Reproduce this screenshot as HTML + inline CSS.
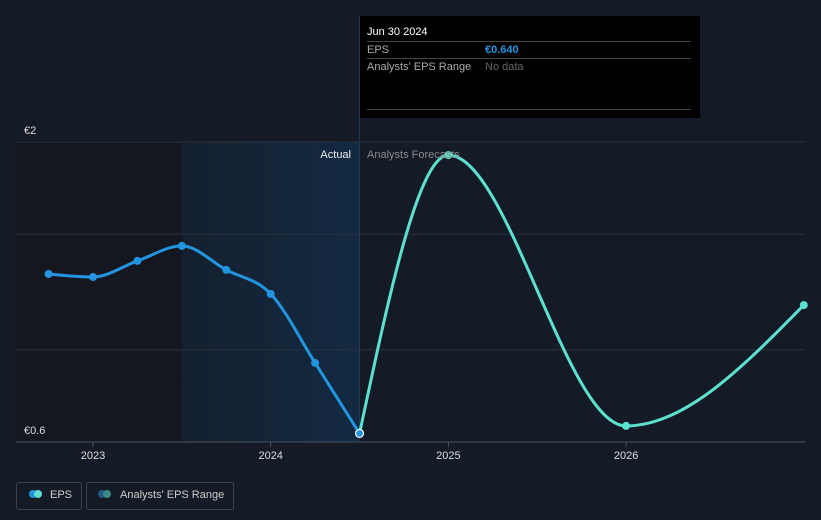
<!DOCTYPE html>
<html><head><meta charset="utf-8"><style>
html,body{margin:0;padding:0;background:#151b26;width:821px;height:520px;overflow:hidden;font-family:"Liberation Sans",sans-serif}
svg text{font-family:"Liberation Sans",sans-serif}
</style></head><body>
<svg id="chart" width="821" height="520" xmlns="http://www.w3.org/2000/svg">
<defs><linearGradient id="pg" x1="0" x2="1" y1="0" y2="0"><stop offset="0" stop-color="#14202f"/><stop offset="1" stop-color="#132a42"/></linearGradient></defs>
<rect x="0" y="0" width="821" height="520" fill="#151b26"/>
<g id="regions"></g>
<g id="grid"></g>
<g id="series"></g>
<g id="labels"></g>
<g>
<rect x="360" y="16" width="340" height="102" fill="#000"/>
<text x="367" y="35" fill="#fff" font-size="11">Jun 30 2024</text>
<line x1="367" y1="41.5" x2="691" y2="41.5" stroke="#444"/>
<text x="367" y="53" fill="#aaa" font-size="11">EPS</text>
<text x="485" y="53" fill="#2394df" font-size="11" font-weight="bold">€0.640</text>
<line x1="367" y1="58.5" x2="691" y2="58.5" stroke="#444"/>
<text x="367" y="70" fill="#aaa" font-size="11">Analysts' EPS Range</text>
<text x="485" y="70" fill="#666" font-size="11">No data</text>
<line x1="367" y1="109.5" x2="691" y2="109.5" stroke="#444"/>
</g>
<g>
<rect x="16.5" y="482.5" width="65" height="27" rx="2" fill="none" stroke="#3a404c"/>
<circle cx="33" cy="494" r="4" fill="#2394df"/><circle cx="38" cy="494" r="4" fill="#5ce1d0"/>
<text x="50" y="498" fill="#ccc" font-size="11">EPS</text>
<rect x="86.5" y="482.5" width="147" height="27" rx="2" fill="none" stroke="#3a404c"/>
<circle cx="102" cy="494" r="4" fill="#1f5a80"/><circle cx="107" cy="494" r="4" fill="#3d8a88"/>
<text x="120" y="498" fill="#ccc" font-size="11">Analysts' EPS Range</text>
</g>
</svg>
<script>
const actualDates=[2022.75,2023,2023.25,2023.5,2023.75,2024,2024.25,2024.5];
const actualEps=[1.384,1.370,1.445,1.515,1.403,1.291,0.969,0.640];
const forecastDates=[2024.5,2025,2026,2027];
const forecastEps=[0.640,1.939,0.675,1.239];
const xTicks=[2023,2024,2025,2026];
const yTicks=[0.6,2];
const gridVals=[2,1.57,1.03,0.6];
const NS="http://www.w3.org/2000/svg";
const X=v=>93+(v-2023)*177.7;
const Y=v=>442-(v-0.6)*(300/1.4);
function mk(t,a,p){const e=document.createElementNS(NS,t);for(const k in a)e.setAttribute(k,a[k]);(p||document.getElementById('series')).appendChild(e);return e;}
function path(pts){const n=pts.length;const s=[],m=[];for(let i=0;i<n-1;i++)s.push((pts[i+1][1]-pts[i][1])/(pts[i+1][0]-pts[i][0]));
for(let i=0;i<n;i++){if(i===0)m.push(s[0]);else if(i===n-1)m.push(s[n-2]);else{const a=s[i-1],b=s[i];if(a*b<=0)m.push(0);else{const h0=pts[i][0]-pts[i-1][0],h1=pts[i+1][0]-pts[i][0];const p=(a*h1+b*h0)/(h0+h1);m.push((Math.sign(a)+Math.sign(b))*Math.min(Math.abs(a),Math.abs(b),0.5*Math.abs(p)));}}}
if(n>2){m[0]=(3*s[0]-m[1])/2;m[n-1]=(3*s[n-2]-m[n-2])/2;}
let d=`M${pts[0][0]},${pts[0][1]}`;for(let i=0;i<n-1;i++){const h=(pts[i+1][0]-pts[i][0])/3;d+=` C${pts[i][0]+h},${pts[i][1]+m[i]*h} ${pts[i+1][0]-h},${pts[i+1][1]-m[i+1]*h} ${pts[i+1][0]},${pts[i+1][1]}`;}return d;}
const reg=document.getElementById('regions');
let r1=mk('rect',{x:16,y:142,width:X(2023.5)-16,height:300,fill:'#14171f'},reg);

let r2=mk('rect',{x:X(2023.5),y:142,width:X(2024.5)-X(2023.5),height:300,fill:'url(#pg)'},reg);

const g=document.getElementById('grid');
gridVals.forEach(v=>{let l=mk('line',{x1:16,x2:805,y1:Y(v),y2:Y(v),stroke:v===0.6?'#4a505c':'#2a303c'},g);});
let vl=mk('line',{x1:X(2024.5),x2:X(2024.5),y1:16,y2:442,stroke:'#223a52'},g);
const lb=document.getElementById('labels');
xTicks.forEach(v=>{mk('line',{x1:X(v),x2:X(v),y1:442,y2:447,stroke:'#4a505c'},lb);let t=mk('text',{x:X(v),y:459,'text-anchor':'middle',fill:'#ddd','font-size':11},lb);t.textContent=v;});
yTicks.forEach(v=>{let t=mk('text',{x:24,y:Y(v)-8,fill:'#ddd','font-size':11},lb);t.textContent='€'+v;});
let ta=mk('text',{x:351,y:158,'text-anchor':'end',fill:'#eee','font-size':11},lb);ta.textContent='Actual';
let tf=mk('text',{x:367,y:158,fill:'#888','font-size':11},lb);tf.textContent='Analysts Forecasts';
const ap=actualDates.map((d,i)=>[X(d),Y(actualEps[i])]);
const fp=forecastDates.map((d,i)=>[X(d),Y(forecastEps[i])]);
let pa=mk('path',{d:path(ap),fill:'none',stroke:'#2394df','stroke-width':3});
let pf=mk('path',{d:path(fp),fill:'none',stroke:'#5ce1d0','stroke-width':3});
ap.forEach((p,i)=>{const last=i===ap.length-1;let c=mk('circle',{cx:p[0],cy:p[1],r:4,fill:'#2394df',stroke:last?'#fff':'none','stroke-width':1.2});});
fp.slice(1).forEach(p=>{let c=mk('circle',{cx:p[0],cy:p[1],r:4,fill:'#5ce1d0'});});
</script>
</body></html>
